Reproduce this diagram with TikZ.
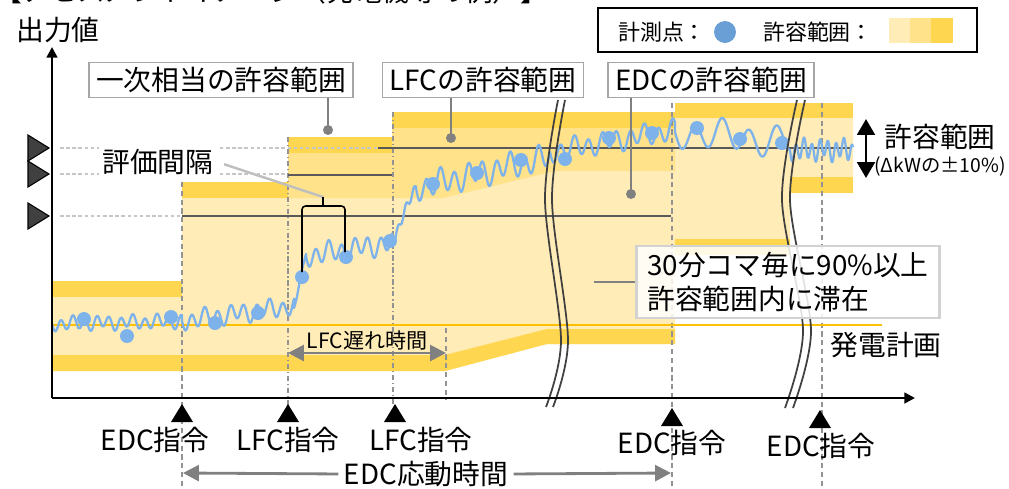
\documentclass[tikz,border=0pt]{standalone}
\usepackage{fontspec}
\setmainfont{Noto Sans CJK JP}
\usetikzlibrary{arrows.meta}

\definecolor{bandD}{RGB}{255,214,79}
\definecolor{bandM}{RGB}{255,226,138}
\definecolor{bandL}{RGB}{255,236,183}
\definecolor{planO}{RGB}{255,192,0}
\definecolor{ptBlue}{RGB}{125,178,234}
\definecolor{lgBlue}{RGB}{106,159,214}
\definecolor{tgtGray}{RGB}{89,89,89}
\definecolor{ptrGray}{RGB}{128,128,128}

\tikzset{
  txt/.style={inner sep=0pt, font=\fontsize{15.8}{19}\selectfont},
  lbl/.style={txt, draw=gray!70, line width=0.9pt, fill=white, inner xsep=4pt, minimum height=0.7cm},
  lgtxt/.style={inner sep=0pt, font=\fontsize{12.5}{15}\selectfont},
  guide/.style={gray!45, line width=0.6pt, dash pattern=on 2pt off 1.5pt},
  vdash/.style={gray!85, line width=0.7pt, dash pattern=on 3pt off 2pt},
  vdashdot/.style={gray!85, line width=0.7pt, dash pattern=on 3pt off 1.5pt on 0.8pt off 1.5pt},
  tgt/.style={tgtGray, line width=1.1pt},
  planln/.style={planO, line width=1.6pt},
  wave/.style={ptBlue, line width=1.3pt, line join=round},
  brkln/.style={black!75, line width=1pt},
  axisln/.style={black, line width=1.4pt, -{Triangle[length=6pt,width=6pt]}},
  ptr/.style={ptrGray, line width=1.6pt},
  garr/.style={ptrGray, line width=1.6pt},
}

\begin{document}
\begin{tikzpicture}[x=0.02cm, y=-0.02cm]
\useasboundingbox (0,0) rectangle (1009,488);
% タイトル
\node[txt, anchor=base west] (ttl) at (-6,1) {【アセスメントイメージ（発電機等の例）】};

% 許容範囲の帯
\fill[bandL] (52,281) -- (182,281) -- (182,182) -- (288,182) -- (288,137) -- (392,137) -- (392,112) -- (675,112) -- (675,103) -- (853,103) -- (853,193) -- (790,193) -- (790,255) -- (675,255) -- (675,344) -- (547,344) -- (445,371) -- (52,371) -- cycle;
\fill[bandM] (288,153) -- (392,153) -- (392,128) -- (675,128) -- (675,171) -- (555,171) -- (443,198) -- (288,198) -- cycle;
\foreach \xa/\ya/\xb/\yb in {52/281/182/297, 182/182/288/198, 288/137/392/153, 392/112/675/128, 675/103/853/118, 675/239/790/255, 790/177/853/193}
  \fill[bandD] (\xa,\ya) rectangle (\xb,\yb);
\fill[bandD] (52,355) -- (445,355) -- (547,329) -- (675,329) -- (675,344) -- (547,344) -- (445,371) -- (52,371) -- cycle;

% ガイド線と指令時刻
\foreach \yy/\xe in {148/378, 174/288, 216/182}
  \draw[guide] (60,\yy) -- (\xe,\yy);
\draw[vdash] (182,182) -- (182,488);
\draw[vdashdot] (288,137) -- (288,405);
\draw[vdashdot] (393,112) -- (393,405);
\draw[vdash] (446,328) -- (446,400);
\draw[vdash] (672,103) -- (672,488);
\draw[vdash] (822,103) -- (822,488);

% 目標値と発電計画
\draw[tgt] (182,216) -- (671,216);
\draw[tgt] (288,175) -- (392,175);
\draw[tgt] (378,148) -- (852,148);
\draw[planln] (52,325) -- (882,325);

% 出力の推移
\draw[wave] (52,324) \foreach \xa/\xb/\ya/\yb/\am/\pe in {52/182/324/321/6/12, 182/294/321/306/8/13, 294/306/308/252/2/10, 306/392/256/243/9/13, 392/416/243/185/4/8, 416/550/188/157/11/14, 550/675/152/130/9/14, 675/790/132/142/13/27, 790/853/150/150/9/8}
  { -- plot[domain=\xa:\xb, samples=120] (\x,{\ya+(\yb-\ya)*(\x-\xa)/(\xb-\xa)+\am*sin((\x-\xa)/\pe*360)+0.4*\am*sin((\x-\xa)/\pe*151)}) };
\foreach \xx/\yy in {84/319, 127/336, 171/317, 215/323, 258/313, 302/277, 346/257, 390/241, 433/184, 477/173, 521/160, 565/159, 609/138, 652/133, 697/128, 740/139, 782/143}
  \fill[ptBlue] (\xx,\yy) circle (0.14cm);

% 省略線
\foreach \dx in {0,7}
  \draw[brkln] plot[smooth] coordinates {(558+\dx,100) (545+\dx,200) (561+\dx,340) (546+\dx,407)};
\foreach \dx in {0,8}
  \draw[brkln] plot[smooth] coordinates {(797+\dx,100) (782+\dx,200) (803+\dx,330) (785+\dx,408)};

% 軸
\draw[axisln] (52,398) -- (915,398);
\draw[axisln] (52,398) -- (52,47);
\node[txt] (ylab) at (58,30) {出力値};
\foreach \yy in {148,174,216}
  \filldraw[fill=black!75, draw=black, line width=0.6pt] (28,\yy-13) -- (49,\yy) -- (28,\yy+13) -- cycle;

% 凡例
\node[draw=black, line width=1.2pt, minimum width=7.58cm, minimum height=0.88cm] (lg) at (787.5,30) {};
\node[lgtxt] (lg1) at (662,32) {計測点：};
\fill[lgBlue] (725,32) circle (0.22cm);
\node[lgtxt] (lg2) at (818,32) {許容範囲：};
\fill[bandL] (889,18) rectangle (910,43);
\fill[bandM] (910,18) rectangle (931,43);
\fill[bandD] (931,18) rectangle (953,43);

% 許容範囲の吹き出し
\node[lbl] (b1) at (221,80) {一次相当の許容範囲};
\node[lbl] (b2) at (483,80) {LFCの許容範囲};
\node[lbl] (b3) at (711,80) {EDCの許容範囲};
\coordinate (d1) at (328,130);
\coordinate (d2) at (451,138);
\coordinate (d3) at (631,194);
\draw[ptr] (b1.south -| d1) -- (d1);
\draw[ptr] (b2.south -| d2) -- (d2);
\draw[ptr] (b3.south -| d3) -- (d3);
\foreach \d in {d1,d2,d3}
  \fill[ptrGray] (\d) circle (0.1cm);

% 評価間隔
\node[txt, fill=white, inner sep=2pt] (hk) at (158,162) {評価間隔};
\coordinate (brk) at (323,197);
\draw[gray!50, line width=1.4pt, shorten <=4pt] (hk.east) -- (brk);
\draw[black, line width=0.9pt, rounded corners=2pt] (302,272) -- (302,206) -- (345,206) -- (345,252);
\draw[black, line width=0.9pt] (323,206) -- (brk);

% 滞在率の注記
\node[txt, draw=gray!35, line width=1.2pt, fill=white, fill opacity=0.85, text opacity=1, align=left,
  minimum width=6.06cm, minimum height=1.44cm, font=\fontsize{15.8}{19.3}\selectfont] (nt) at (788,282) {30分コマ毎に90\%以上\\許容範囲内に滞在};
\coordinate (na) at (594,282);
\draw[ptrGray, line width=0.6pt] (na) -- (nt.west);

% 右側の説明
\node[txt] (kyo) at (940,137) {許容範囲};
\node[inner sep=0pt, font=\fontsize{11}{13}\selectfont] (kw) at (940,166) {(ΔkWの±10\%)};
\coordinate (ra) at (866,119);
\coordinate (rb) at (866,178);
\draw[black, line width=1.6pt, {Triangle[length=9pt,width=10pt]}-{Triangle[length=9pt,width=10pt]}] (ra) -- (rb);
\node[txt] (plan) at (886,345) {発電計画};

% LFC遅れ時間
\coordinate (la) at (288,353);
\coordinate (lb) at (446,353);
\draw[garr, {Triangle[length=9pt,width=9pt]}-{Triangle[length=9pt,width=9pt]}] (la) -- (lb);
\node[inner sep=0pt, font=\fontsize{12}{14}\selectfont] (lfcd) at (367,340) {LFC遅れ時間};

% 指令
\foreach \xx/\yy in {182/404, 288/404, 395/404, 672/408, 820/410}
  \fill[black] (\xx-11,\yy+18) -- (\xx,\yy) -- (\xx+11,\yy+18) -- cycle;
\node[txt] (c1) at (155,440) {EDC指令};
\node[txt] (c2) at (288,440) {LFC指令};
\node[txt] (c3) at (421,440) {LFC指令};
\node[txt] (c4) at (672,443) {EDC指令};
\node[txt] (c5) at (821,446) {EDC指令};

% EDC応動時間
\node[txt] (edct) at (426,474) {EDC応動時間};
\coordinate (ea) at (183,473);
\coordinate (eb) at (671,473);
\draw[garr, -{Triangle[length=9pt,width=9pt]}, shorten <=3pt] (edct.west) -- (ea);
\draw[garr, -{Triangle[length=9pt,width=9pt]}, shorten <=3pt] (edct.east) -- (eb);
\end{tikzpicture}
\end{document}
